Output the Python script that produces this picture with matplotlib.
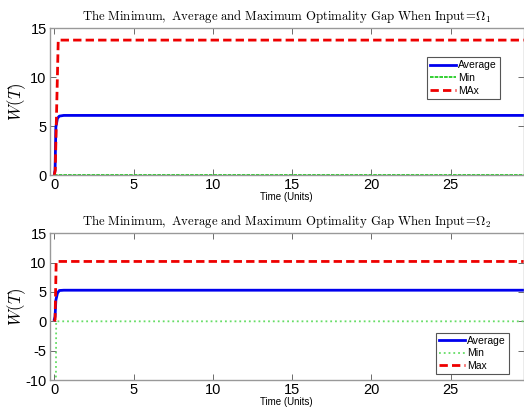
import matplotlib
matplotlib.use("Agg")
import matplotlib.pyplot as plt

plt.rcParams['mathtext.fontset'] = 'cm'
plt.rcParams['font.family'] = ['Liberation Sans', 'DejaVu Sans']
plt.rcParams['axes.unicode_minus'] = False

# ---- data ----
T_END = 29.6
# Panel 1 (Input = Omega_1)
t1_avg = [0.0, 0.05, 0.1, 0.2, 0.32, 0.6, T_END]
avg1 = [0.0, 0.5, 4.9, 5.8, 6.03, 6.1, 6.1]
t1_min = [0.0, T_END]
min1 = [0.0, 0.0]
t1_max = [0.0, 0.06, 0.25, T_END]
max1 = [0.0, 0.5, 13.8, 13.8]

# Panel 2 (Input = Omega_2)
t2_avg = [0.0, 0.05, 0.1, 0.2, 0.32, 0.6, T_END]
avg2 = [0.3, 0.8, 3.6, 4.8, 5.25, 5.3, 5.3]
t2_min = [0.1, 0.12, T_END]
min2 = [-12.0, 0.0, 0.0]
t2_max = [0.0, 0.05, 0.12, T_END]
max2 = [0.0, 0.3, 10.2, 10.2]

titles = [r'$\mathrm{The\ Minimum,\ Average\ and\ Maximum\ Optimality\ Gap\ When\ Input}\!=\!\Omega_1$',
          r'$\mathrm{The\ Minimum,\ Average\ and\ Maximum\ Optimality\ Gap\ When\ Input}\!=\!\Omega_2$']
legend_labels = [['Average', 'Min', 'MAx'], ['Average', 'Min', 'Max']]
yticks = [[0, 5, 10, 15], [-10, -5, 0, 5, 10, 15]]
ylims = [(0, 15), (-10, 15)]
xticks = [0, 5, 10, 15, 20, 25]

fig = plt.figure(figsize=(5.24, 4.11), dpi=100)
ax1 = fig.add_axes([0.0945, 0.574, 0.905, 0.357])
ax2 = fig.add_axes([0.0945, 0.0754, 0.905, 0.357])

data = [
    ((t1_avg, avg1), (t1_min, min1), (t1_max, max1)),
    ((t2_avg, avg2), (t2_min, min2), (t2_max, max2)),
]
legend_locs = [(0.795, 0.52), (0.815, 0.04)]
green = ['#22cc22', '#66dd66']
green_ls = [(0, (2, 0.6)), ':']
for i, ax in enumerate([ax1, ax2]):
    (ta, a), (tn, n), (tx, x) = data[i]
    ax.plot(ta, a, color='#0000ee', lw=2.0, label=legend_labels[i][0])
    ax.plot(tn, n, color=green[i], lw=1.3, linestyle=green_ls[i],
            label=legend_labels[i][1])
    ax.plot(tx, x, color='#ee0000', lw=2.0, linestyle=(0, (3, 1.5)), label=legend_labels[i][2])
    ax.set_xlim(-0.3, T_END)
    ax.set_ylim(*ylims[i])
    ax.set_xticks(xticks)
    ax.set_yticks(yticks[i])
    ax.tick_params(direction='in', top=True, right=True, length=4, width=0.6,
                   labelsize=10.5, color='#555555', pad=2)
    for s in ax.spines.values():
        s.set_color('#999999')
        s.set_linewidth(1.0)
    ax.set_title(titles[i], fontsize=9.2, pad=6)
    ax.set_ylabel(r'$W(T)$', fontsize=12)
    ax.yaxis.set_label_coords(-0.046, 0.5)
    ax.set_xlabel('Time (Units)', fontsize=7, labelpad=0)
    leg = ax.legend(loc='lower left', bbox_to_anchor=legend_locs[i], fontsize=7.5,
                    frameon=True, fancybox=False, framealpha=1, edgecolor='#555555',
                    handlelength=2.5, handletextpad=0.2, borderpad=0.3, labelspacing=0.25,
                    borderaxespad=0)
    leg.get_frame().set_linewidth(0.8)

fig.savefig('out.png', dpi=100)
